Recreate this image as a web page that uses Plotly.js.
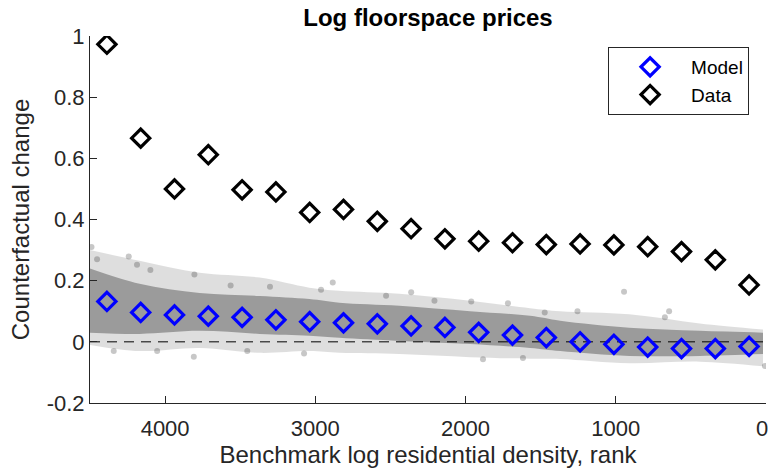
<!DOCTYPE html>
<html>
<head>
<meta charset="utf-8">
<script src="https://cdn.plot.ly/plotly-3.0.1.min.js"></script>
<style>
  html, body { margin: 0; padding: 0; background: #fff; }
  #chart { width: 770px; height: 474px; }
</style>
</head>
<body>
<div id="chart"></div>
<script>
// ---- data ----
const binRank = [4387.5, 4162.5, 3937.5, 3712.5, 3487.5, 3262.5, 3037.5, 2812.5, 2587.5, 2362.5,
                 2137.5, 1912.5, 1687.5, 1462.5, 1237.5, 1012.5, 787.5, 562.5, 337.5, 112.5];
const modelVals = [0.132, 0.096, 0.088, 0.084, 0.080, 0.072, 0.066, 0.062, 0.059, 0.052,
                   0.047, 0.031, 0.022, 0.014, 0.000, -0.008, -0.017, -0.022, -0.022, -0.015];
const dataVals = [0.973, 0.666, 0.500, 0.612, 0.497, 0.490, 0.423, 0.433, 0.394, 0.370,
                  0.337, 0.329, 0.324, 0.318, 0.320, 0.317, 0.311, 0.295, 0.268, 0.186];

// envelope of the grey point cloud (individual simulated locations)
const cloudRank = [4500, 4170, 3770, 3370, 3040, 2840, 2440, 1970, 1570, 1370, 910, 440, 20];
const cloudOuterHi = [0.30, 0.265, 0.226, 0.21, 0.177, 0.167, 0.157, 0.134, 0.11, 0.10, 0.09, 0.06, 0.04];
const cloudCoreHi = [0.24, 0.19, 0.16, 0.15, 0.14, 0.128, 0.118, 0.10, 0.085, 0.069, 0.046, 0.036, 0.03];
const cloudCoreLo = [0.03, 0.026, 0.036, 0.026, 0.02, 0.013, 0.003, -0.007, -0.02, -0.03, -0.046, -0.046, -0.04];
const cloudOuterLo = [-0.01, -0.03, -0.02, -0.036, -0.03, -0.036, -0.04, -0.05, -0.055, -0.056, -0.07, -0.065, -0.08];

// isolated grey points visible outside the dense cloud
const dotRank = [4490, 4453, 4342, 4242, 4187, 4098, 4053, 3809, 3805, 3564, 3453, 3302, 3075, 2962,
                 2884, 2529, 2362, 2207, 1962, 1884, 1718, 1618, 1473, 1255, 945, 673, 645, 7];
const dotVals = [0.31, 0.27, -0.03, 0.279, 0.252, 0.235, -0.03, -0.049, 0.22, 0.184, -0.03, 0.18, -0.038, 0.17,
                 0.194, 0.151, 0.162, 0.134, 0.132, -0.057, 0.126, -0.053, 0.096, 0.10, 0.164, 0.08, 0.10, -0.079];

const xRange = [4500, 0];
const yRange = [-0.2, 1];
const xTickVals = [4000, 3000, 2000, 1000, 0];
const xTickText = ['4000', '3000', '2000', '1000', '0'];
const yTickVals = [-0.2, 0, 0.2, 0.4, 0.6, 0.8, 1];
const yTickText = ['-0.2', '0', '0.2', '0.4', '0.6', '0.8', '1'];
const baseline = [0, 0];

const FONT = 'Liberation Sans, Arial, Helvetica, sans-serif';
const INK = '#262626';

// the last tick label sits on the figure edge: draw it as an annotation nudged inside
const edgeIdx = xTickVals.length - 1;
const shownTickText = xTickText.map((t, i) => (i === edgeIdx ? '' : t));

const traces = [
  { x: cloudRank, y: cloudOuterLo, mode: 'lines', line: { width: 0, shape: 'spline' },
    hoverinfo: 'skip', showlegend: false },
  { x: cloudRank, y: cloudOuterHi, mode: 'lines', line: { width: 0, shape: 'spline' },
    fill: 'tonexty', fillcolor: 'rgba(0,0,0,0.13)', hoverinfo: 'skip', showlegend: false },
  { x: cloudRank, y: cloudCoreLo, mode: 'lines', line: { width: 0, shape: 'spline' },
    hoverinfo: 'skip', showlegend: false },
  { x: cloudRank, y: cloudCoreHi, mode: 'lines', line: { width: 0, shape: 'spline' },
    fill: 'tonexty', fillcolor: 'rgba(0,0,0,0.30)', hoverinfo: 'skip', showlegend: false },
  { x: dotRank, y: dotVals, mode: 'markers',
    marker: { size: 6, color: 'rgba(0,0,0,0.22)' }, hoverinfo: 'skip', showlegend: false },
  { x: xRange, y: baseline, mode: 'lines', line: { color: '#000', width: 1, dash: '10px,7px' },
    hoverinfo: 'skip', showlegend: false },
  { x: binRank, y: modelVals, mode: 'markers', name: 'Model',
    marker: { symbol: 'diamond-open', size: 14, color: '#0000ff', line: { width: 3.2, color: '#0000ff' } } },
  { x: binRank, y: dataVals, mode: 'markers', name: 'Data',
    marker: { symbol: 'diamond-open', size: 14, color: '#000000', line: { width: 3.2, color: '#000000' } } }
];

const layout = {
  width: 770, height: 474,
  paper_bgcolor: '#fff', plot_bgcolor: '#fff',
  margin: { l: 90, r: 4, t: 36, b: 71 },
  font: { family: FONT, color: INK, size: 22 },
  title: { text: 'Log floorspace prices', font: { family: FONT, size: 24, color: '#000', weight: 'bold' },
           x: 0.5, xref: 'paper', y: 0.981, yref: 'container', yanchor: 'top' },
  xaxis: {
    range: xRange, autorange: false,
    tickmode: 'array', tickvals: xTickVals, ticktext: shownTickText,
    ticks: 'inside', ticklen: 7, tickwidth: 1, tickcolor: INK,
    ticklabelstandoff: 6,
    showline: true, linecolor: INK, linewidth: 1, mirror: false,
    showgrid: false, zeroline: false,
    tickfont: { size: 22, color: INK, family: FONT },
    title: { text: 'Benchmark log residential density, rank', font: { size: 24, color: INK, family: FONT }, standoff: 5 },
    automargin: false
  },
  yaxis: {
    range: yRange, autorange: false,
    tickmode: 'array', tickvals: yTickVals, ticktext: yTickText,
    ticks: 'inside', ticklen: 7, tickwidth: 1, tickcolor: INK,
    showline: true, linecolor: INK, linewidth: 1, mirror: false,
    showgrid: false, zeroline: false,
    tickfont: { size: 22, color: INK, family: FONT },
    title: { text: 'Counterfactual change', font: { size: 24, color: INK, family: FONT }, standoff: 10 },
    automargin: false
  },
  annotations: [{
    x: xTickVals[edgeIdx], xref: 'x', xanchor: 'right', xshift: 4,
    y: 0, yref: 'paper', yanchor: 'middle', yshift: -25,
    text: xTickText[edgeIdx], showarrow: false,
    font: { size: 22, color: INK, family: FONT }
  }],
  legend: {
    x: 0.975, xanchor: 'right', y: 0.97, yanchor: 'top',
    bgcolor: '#fff', bordercolor: INK, borderwidth: 1,
    font: { size: 19, color: '#000', family: FONT },
    itemwidth: 72, tracegroupgap: 0, traceorder: 'normal'
  },
  showlegend: true
};

Plotly.newPlot('chart', traces, layout, { displayModeBar: false, staticPlot: true });
</script>
</body>
</html>
